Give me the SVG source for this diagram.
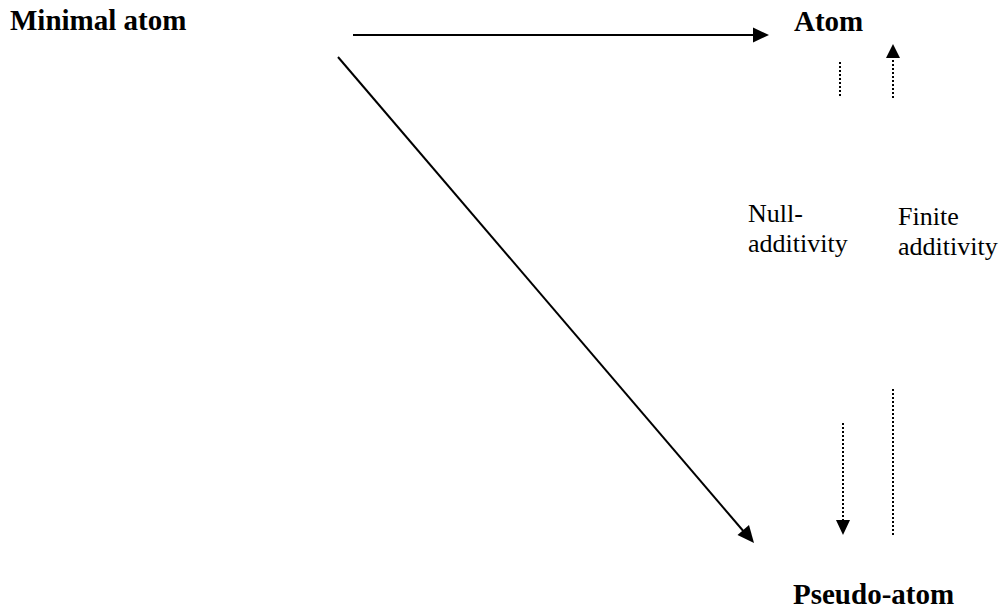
<svg xmlns="http://www.w3.org/2000/svg" width="1002" height="609" viewBox="0 0 1002 609" font-family="Liberation Serif, Times New Roman, serif">
<defs>
<style>
.s{stroke:#000;stroke-width:2;fill:none}
.d{stroke:#000;stroke-width:2;fill:none;stroke-dasharray:2 2}
.h{fill:#000;stroke:none}
</style>
</defs>
<rect width="1002" height="609" fill="#fff"/>
<g id="node-minimal"><text x="10" y="30" font-size="29" font-weight="bold" font-family="Liberation Serif">Minimal atom</text></g>
<g id="node-atom"><text x="794" y="31" font-size="29" font-weight="bold" font-family="Liberation Serif">Atom</text></g>
<g id="node-pseudo"><text x="793" y="604" font-size="29" font-weight="bold" font-family="Liberation Serif">Pseudo-atom</text></g>
<g id="label-null"><text x="748" y="222" font-size="26" font-family="Liberation Serif">Null-</text><text x="748" y="252" font-size="26" font-family="Liberation Serif">additivity</text></g>
<g id="label-finite"><text x="898" y="225" font-size="26" font-family="Liberation Serif">Finite</text><text x="898" y="255" font-size="26" font-family="Liberation Serif">additivity</text></g>
<g id="connectors">
<line class="s" x1="353" y1="35" x2="755" y2="35"/>
<polygon class="h" points="769,35 753,27.5 753,42.5"/>
<line class="s" x1="338" y1="57" x2="745" y2="533"/>
<polygon class="h" points="754,543 737.5,535 749,525"/>
<line class="d" x1="840" y1="62" x2="840" y2="96"/>
<line class="d" x1="893" y1="60" x2="893" y2="98"/>
<polygon class="h" points="893,44 886,58 900,58"/>
<line class="d" x1="843" y1="423" x2="843" y2="520"/>
<polygon class="h" points="843,535 836,520 850,520"/>
<line class="d" x1="893" y1="389" x2="893" y2="537"/>
</g>
</svg>
